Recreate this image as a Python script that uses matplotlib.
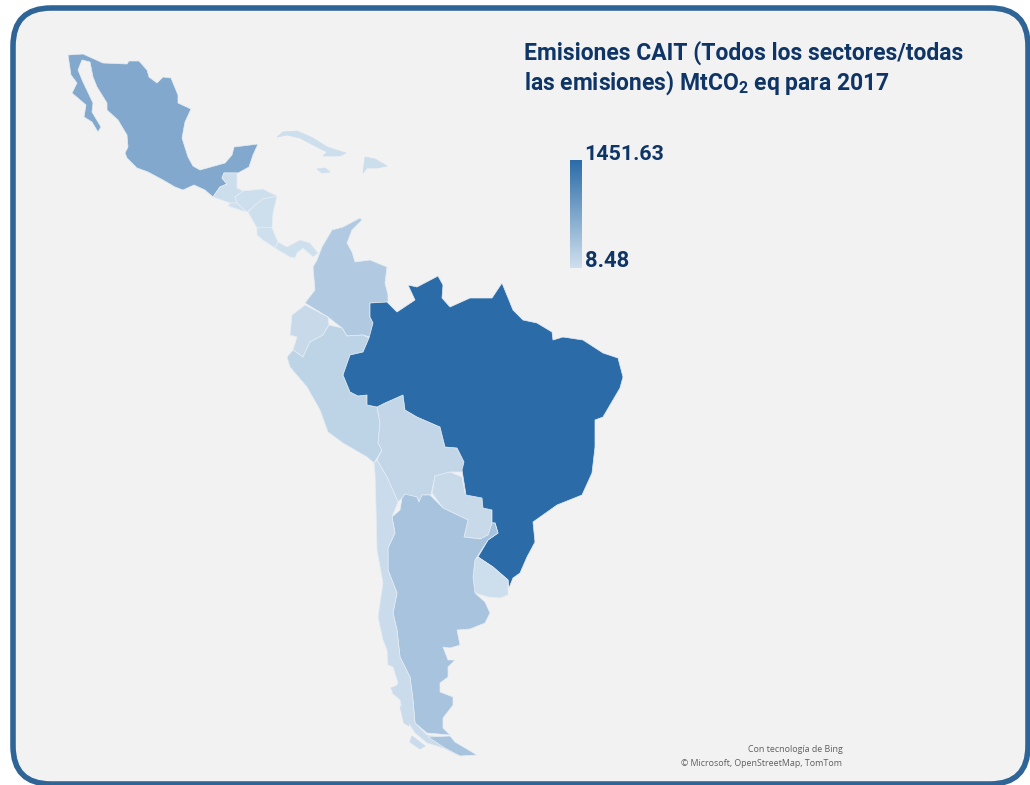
import numpy as np
import matplotlib
matplotlib.use('Agg')
import matplotlib.pyplot as plt
from matplotlib.colors import LinearSegmentedColormap, Normalize
from matplotlib.patches import FancyBboxPatch, Polygon

plt.rcParams['font.family'] = ['Roboto', 'DejaVu Sans']
plt.rcParams['mathtext.fontset'] = 'custom'
plt.rcParams['mathtext.bf'] = 'Roboto:bold'
plt.rcParams['mathtext.rm'] = 'Roboto:bold'

# emissions per country, estimated from the fill colours
emissions = {
    'mexico': 690, 'guatemala': 45, 'salvador': 30, 'honduras': 40, 'nicaragua': 35,
    'costa_rica': 30, 'panama': 30, 'cuba': 40, 'jamaica': 25, 'dominican': 45,
    'colombia': 280, 'ecuador': 85, 'peru': 175, 'bolivia': 135, 'paraguay': 85,
    'brazil': 1451.63, 'uruguay': 35, 'argentina': 365, 'chile': 70, 'fuego': 365,
    'chile_a': 70, 'chile_b': 70, 'chile_c': 70,
}
scale_min = 8.48
scale_max = 1451.63

# outlines
mexico = [(68,55),(83,54),(103,63),(127,64),(129,61),(139,61),(147,70),(149,77),(157,83),(163,77),(171,78),
          (178,95),(178,103),(191,109),(185,122),(182,138),(188,157),(193,166),(200,170),(225,163),(232,155),
          (234,147),(258,144),(253,155),(249,167),(238,173),(224,173),(222,178),(227,184),(220,187),(213,197),
          (205,190),(194,185),(183,190),(175,187),(163,180),(148,172),(137,168),(127,158),(125,153),(128,147),
          (127,135),(118,120),(107,110),(107,103),(97,87),(93,77),(90,62),(82,60),(78,70),(83,82),(93,103),
          (92,112),(101,127),(98,132),(92,122),(84,117),(86,105),(72,93),(77,83),(71,75)]
guatemala = [(224,173),(237,173),(237,188),(243,191),(235,197),(237,203),(230,203),(213,197),(220,187),(227,184),(222,178)]
salvador = [(230,203),(237,203),(247,212),(240,210),(228,206)]
honduras = [(243,191),(263,189),(277,196),(263,199),(253,207),(247,212),(237,203),(235,197)]
nicaragua = [(277,196),(273,213),(272,228),(263,227),(257,228),(248,212),(253,207),(263,199)]
costa_rica = [(257,228),(263,227),(272,228),(278,242),(275,248),(263,240),(257,235)]
panama = [(278,242),(287,247),(300,240),(310,243),(318,253),(313,257),(303,248),(297,253),(295,258),(290,257),(275,248)]
cuba = [(277,137),(283,132),(297,131),(313,138),(327,147),(346,153),(340,156),(323,156),(327,152),(313,145),(300,138),(287,135)]
jamaica = [(317,169),(325,168),(330,172),(322,173)]
dominican = [(365,157),(375,159),(387,166),(377,168),(367,168),(363,173)]
colombia = [(360,218),(362,220),(352,230),(347,243),(352,252),(355,262),(370,260),(387,267),(385,283),(388,295),(388,302),
            (370,303),(370,317),(373,323),(370,337),(363,335),(347,336),(342,328),(328,317),(305,303),(315,290),(313,267),
            (317,260),(322,247),(332,230),(343,227)]
ecuador = [(305,305),(328,317),(329,325),(323,335),(310,342),(303,357),(293,350),(297,337),(290,335),(292,315)]
peru = [(293,350),(303,357),(310,342),(323,335),(329,325),(342,328),(347,336),(363,335),(369,338),(363,352),(350,355),
        (343,375),(350,392),(358,396),(367,395),(367,405),(377,407),(380,423),(378,443),(382,450),(374,463),(367,457),
        (343,443),(328,432),(320,410),(307,387),(290,367),(287,357)]
bolivia = [(377,407),(385,403),(403,395),(405,410),(417,417),(440,427),(445,447),(457,448),(464,462),(463,472),(450,472),
           (435,476),(431,495),(422,495),(420,502),(417,497),(405,495),(398,502),(387,477),(377,460),(382,450),(378,443),(380,423)]
paraguay = [(435,476),(450,472),(462,477),(465,493),(482,497),(492,510),(492,523),(488,535),(480,539),(464,537),(468,520),(443,508),(432,493)]
brazil = [(370,303),(387,302),(397,312),(415,300),(408,285),(417,287),(438,276),(443,285),(442,298),(450,307),(470,298),
          (492,298),(502,283),(513,310),(523,320),(537,323),(552,332),(553,340),(563,337),(583,340),(603,353),(618,358),
          (623,377),(620,388),(603,417),(595,420),(595,447),(592,473),(582,495),(557,505),(533,522),(535,542),(527,557),
          (520,573),(513,578),(509,588),(508,580),(493,567),(478,557),(488,540),(498,533),(495,523),(492,523),(492,510),
          (483,508),(482,498),(466,495),(462,470),(464,462),(457,448),(445,447),(440,427),(417,417),(405,410),(403,395),
          (385,403),(377,407),(367,405),(367,395),(358,396),(350,392),(343,375),(350,355),(363,352),(369,338),(373,323),(370,317)]
uruguay = [(475,560),(478,557),(493,567),(508,580),(508,595),(500,598),(488,597),(475,593),(473,577)]
argentina = [(402,498),(405,494),(417,497),(419,502),(422,495),(430,495),(443,508),(468,520),(464,537),(480,539),(488,535),
             (492,523),(495,523),(498,533),(488,540),(475,560),(473,577),(475,593),(485,602),(490,613),(485,623),(470,629),
             (457,630),(460,645),(450,648),(443,647),(448,660),(455,660),(448,667),(448,677),(440,683),(440,692),(453,697),
             (453,705),(443,718),(443,728),(450,735),(427,733),(415,723),(413,700),(410,677),(400,657),(397,630),(393,613),
             (397,593),(388,570),(388,548),(395,533),(392,517),(400,510)]
fuego = [(450,736),(455,742),(477,755),(460,756),(445,748),(428,737)]
chile = [(374,463),(377,460),(387,477),(398,502),(392,517),(395,533),(388,548),(388,570),(397,593),(393,613),(397,630),
         (400,657),(410,677),(413,700),(415,723),(427,735),(443,737),(457,755),(443,748),(427,743),(415,733),(403,715),
         (400,700),(392,693),(398,683),(393,667),(388,665),(387,650),(383,640),(378,617),(383,583),(377,550),(376,507),(375,473)]
chile_a = [(391,688),(397,686),(400,692),(394,694)]
chile_b = [(400,706),(405,712),(409,726),(404,723)]
chile_c = [(412,736),(425,746),(420,749),(410,742)]

countries = {
    'mexico': mexico, 'guatemala': guatemala, 'salvador': salvador, 'honduras': honduras, 'nicaragua': nicaragua,
    'costa_rica': costa_rica, 'panama': panama, 'cuba': cuba, 'jamaica': jamaica, 'dominican': dominican,
    'colombia': colombia, 'ecuador': ecuador, 'peru': peru, 'bolivia': bolivia, 'paraguay': paraguay,
    'brazil': brazil, 'uruguay': uruguay, 'argentina': argentina, 'chile': chile, 'fuego': fuego,
    'chile_a': chile_a, 'chile_b': chile_b, 'chile_c': chile_c,
}
islands = ['cuba', 'jamaica', 'dominican', 'chile_a', 'chile_b', 'chile_c']

title_color = '#0E3566'
cmap = LinearSegmentedColormap.from_list('cait', ['#D0E0EE', '#2B6CA8'])
norm = Normalize(scale_min, scale_max)

fig = plt.figure(figsize=(10.3, 7.85), dpi=100, facecolor='white')
ax = fig.add_axes([0, 0, 1, 1])
ax.set_xlim(0, 1030)
ax.set_ylim(785, 0)
ax.axis('off')

frame = FancyBboxPatch((13 + 38, 8 + 38), 1015 - 76, 776 - 76, boxstyle='round,pad=38,rounding_size=38',
                       facecolor='#F2F2F2', edgecolor='#2F6497', linewidth=4)
ax.add_patch(frame)

for name, outline in countries.items():
    face = cmap(norm(emissions[name]))
    edge = face if name in islands else '#E6EDF4'
    ax.add_patch(Polygon(outline, closed=True, facecolor=face, edgecolor=edge,
                         linewidth=0.5, joinstyle='round'))

ax.text(524, 53, 'Emisiones CAIT (Todos los sectores/todas', fontsize=16.5, fontweight='bold',
        color=title_color, va='center')
ax.text(524, 83, r'las emisiones) MtCO$_{\mathbf{2}}$ eq para 2017', fontsize=16.5, fontweight='bold',
        color=title_color, va='center')

# colour scale
cax = fig.add_axes([570 / 1030, 1 - 268 / 785, 12 / 1030, 108 / 785])
cax.imshow(np.linspace(1, 0, 256).reshape(-1, 1), cmap=cmap, aspect='auto')
cax.axis('off')
ax.text(584, 155, f'{scale_max:.2f}', fontsize=15.4, fontweight='bold', color=title_color, va='center')
ax.text(585, 261, f'{scale_min:.2f}', fontsize=15.8, fontweight='bold', color=title_color, va='center')

ax.text(843, 750, 'Con tecnología de Bing', fontsize=6.4, color='#5F5F5F', ha='right', va='center', family='Open Sans')
ax.text(842, 763, '© Microsoft, OpenStreetMap, TomTom', fontsize=6.4, color='#5F5F5F', ha='right', va='center', family='Open Sans')

fig.savefig('out.png', dpi=100)
